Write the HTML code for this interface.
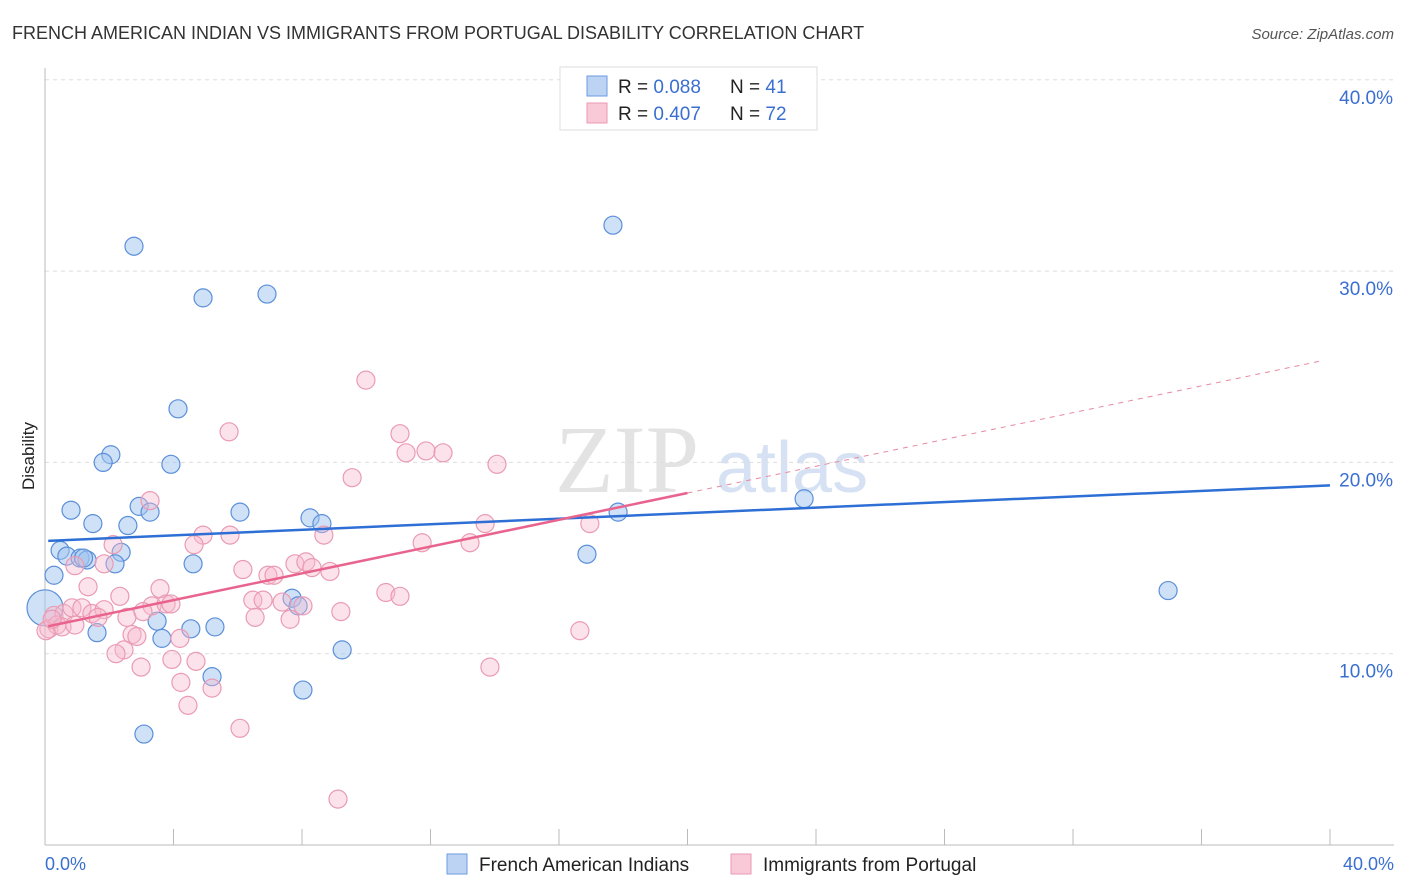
<!DOCTYPE html>
<html><head><meta charset="utf-8"><style>
body{margin:0;background:#fff;font-family:"Liberation Sans",sans-serif}
svg{display:block}
</style></head><body>
<svg id="c" width="1406" height="892" viewBox="0 0 1406 892">
<text x="12" y="39" font-size="18" fill="#333">FRENCH AMERICAN INDIAN VS IMMIGRANTS FROM PORTUGAL DISABILITY CORRELATION CHART</text>
<text x="1394" y="39" font-size="15" fill="#555" font-style="italic" text-anchor="end">Source: ZipAtlas.com</text>
<g>
<text x="555" y="492" font-family="Liberation Serif,serif" font-size="96" fill="#e3e3e3">ZIP</text>
<text x="716" y="492" font-size="72" fill="#d6e2f3">atlas</text>
</g>
<g id="grid"></g>
<line x1="45" y1="68" x2="45" y2="845" stroke="#bbb"/>
<line x1="45" y1="845" x2="1394" y2="845" stroke="#bbb"/>
<g id="xt"></g>
<g id="pts"></g>
<g id="lines"></g>
<text transform="translate(34,456) rotate(-90)" font-size="17" fill="#222" text-anchor="middle">Disability</text>
<text x="45" y="870" font-size="18" fill="#3a6fd1">0.0%</text>
<text x="1394" y="870" font-size="18" fill="#3a6fd1" text-anchor="end">40.0%</text>
<g>
<rect x="560" y="67" width="257" height="63" fill="#fff" stroke="#ddd"/>
<rect x="587" y="76" width="20" height="20" fill="#bcd3f4" stroke="#6b9be0"/>
<rect x="587" y="103" width="20" height="20" fill="#f9c9d8" stroke="#ea9ab3"/>
<text x="618" y="93" font-size="19" fill="#222">R = <tspan fill="#3a6fd1">0.088</tspan><tspan x="730">N = </tspan><tspan fill="#3a6fd1">41</tspan></text>
<text x="618" y="120" font-size="19" fill="#222">R = <tspan fill="#3a6fd1">0.407</tspan><tspan x="730">N = </tspan><tspan fill="#3a6fd1">72</tspan></text>
</g>
<g>
<rect x="447" y="854" width="20" height="20" fill="#bcd3f4" stroke="#6b9be0"/>
<text x="479" y="871" font-size="19" fill="#222">French American Indians</text>
<rect x="731" y="854" width="20" height="20" fill="#f9c9d8" stroke="#ea9ab3"/>
<text x="763" y="871" font-size="19" fill="#222">Immigrants from Portugal</text>
</g>
</svg>
<script>
const yTicks=[10,20,30,40];
const yTickLabels=["10.0%","20.0%","30.0%","40.0%"];
const xTicks=[0,4,8,12,16,20,24,28,32,36,40];
const blueX=[2.77,17.68,4.92,6.91,4.14,2.05,1.81,3.92,0.81,2.93,3.27,6.07,1.49,2.58,8.25,8.62,0.47,0.68,1.09,1.31,2.37,2.18,4.61,0.28,16.87,17.84,23.63,34.96,7.69,7.88,0.0,3.49,4.54,5.29,1.62,3.64,9.25,5.2,8.03,3.08,1.2];
const blueY=[31.3,32.4,28.6,28.8,22.8,20.4,20.0,19.9,17.5,17.7,17.4,17.4,16.8,16.7,17.1,16.8,15.4,15.1,15.0,14.9,15.3,14.7,14.7,14.1,15.2,17.4,18.1,13.3,12.9,12.5,12.4,11.7,11.3,11.4,11.1,10.8,10.2,8.8,8.1,5.8,15.0];
const blueSize=[1,1,1,1,1,1,1,1,1,1,1,1,1,1,1,1,1,1,1,1,1,1,1,1,1,1,1,1,1,1,2,1,1,1,1,1,1,1,1,1,1];
const pinkX=[9.99,5.73,11.05,11.24,11.86,12.39,14.07,9.56,3.27,8.68,13.7,16.96,4.92,5.76,2.12,4.64,11.74,13.23,0.93,1.84,6.16,6.94,7.13,7.78,8.12,8.31,8.87,1.34,3.58,10.61,11.05,2.33,6.47,6.79,7.38,8.03,3.33,3.77,3.92,0.28,0.59,0.84,1.15,1.46,1.84,1.65,2.55,3.05,6.54,9.21,0.12,0.37,0.53,2.71,2.86,4.2,2.46,2.21,3.95,4.7,2.99,13.85,16.65,4.23,5.2,4.45,6.07,9.12,0.03,0.22,7.63,0.93];
const pinkY=[24.3,21.6,21.5,20.5,20.6,20.5,19.9,19.2,18.0,16.2,16.8,16.8,16.2,16.2,15.7,15.7,15.8,15.8,14.6,14.7,14.4,14.1,14.1,14.7,14.8,14.5,14.3,13.5,13.4,13.2,13.0,13.0,12.8,12.8,12.7,12.5,12.5,12.6,12.6,12.0,12.1,12.4,12.4,12.1,12.3,11.9,11.9,12.2,11.9,12.2,11.3,11.5,11.4,11.0,10.9,10.8,10.2,10.0,9.7,9.6,9.3,9.3,11.2,8.5,8.2,7.3,6.1,2.4,11.2,11.8,11.8,11.5];
const blueTrend=[15.9,18.8];   // value at x=0, x=40
const pinkTrend=[11.4,25.4];
const pinkSolidEnd=[20.0];
const X=v=>45+v*32.125, Y=v=>845-v*19.13;
const NS="http://www.w3.org/2000/svg";
function mk(tag,attrs,parent){const e=document.createElementNS(NS,tag);for(const k in attrs)e.setAttribute(k,attrs[k]);parent.appendChild(e);return e;}
const grid=document.getElementById('grid');
yTicks.forEach((t,i)=>{
 const l=mk('line',{x1:45,x2:1394,y1:Y(t),y2:Y(t),stroke:'#ddd','stroke-dasharray':'4,4'},grid);
 
 
 const tx=mk('text',{x:1393,y:Y(t)+24,'font-size':19,fill:'#3a6fd1','text-anchor':'end'},grid);
 tx.textContent=yTickLabels[i];
 
 
});
const xt=document.getElementById('xt');
xTicks.forEach(t=>{
 const l=mk('line',{x1:X(t),x2:X(t),y1:829,y2:845,stroke:'#bbb'},xt);
 
 
});
const pts=document.getElementById('pts');
blueX.forEach((v,i)=>{
 const c=mk('circle',{cx:X(v),cy:Y(blueY[i]),r:blueSize[i]==2?18:9,fill:'rgba(160,196,240,0.5)',stroke:'#5b8fd9','stroke-width':1.2},pts);
 
 
});
pinkX.forEach((v,i)=>{
 const c=mk('circle',{cx:X(v),cy:Y(pinkY[i]),r:9,fill:'rgba(248,185,205,0.4)',stroke:'#e99bb4','stroke-width':1.2},pts);
 
 
});
const lines=document.getElementById('lines');
const bl=mk('line',{x1:X(0.1),y1:Y(blueTrend[0]),x2:X(40),y2:Y(blueTrend[1]),stroke:'#2e6fd6','stroke-width':2.5},lines);


const pAt=x=>pinkTrend[0]+(pinkTrend[1]-pinkTrend[0])*x/40;
const ps=mk('line',{x1:X(0.1),y1:Y(pAt(0.1)),x2:X(pinkSolidEnd[0]),y2:Y(pAt(pinkSolidEnd[0])),stroke:'#e8648f','stroke-width':2.5},lines);


const pd=mk('line',{x1:X(pinkSolidEnd[0]),y1:Y(pAt(pinkSolidEnd[0])),x2:X(39.8),y2:Y(pAt(39.8)),stroke:'#e8889f','stroke-width':1,'stroke-dasharray':'5,5'},lines);


</script>
</body></html>
